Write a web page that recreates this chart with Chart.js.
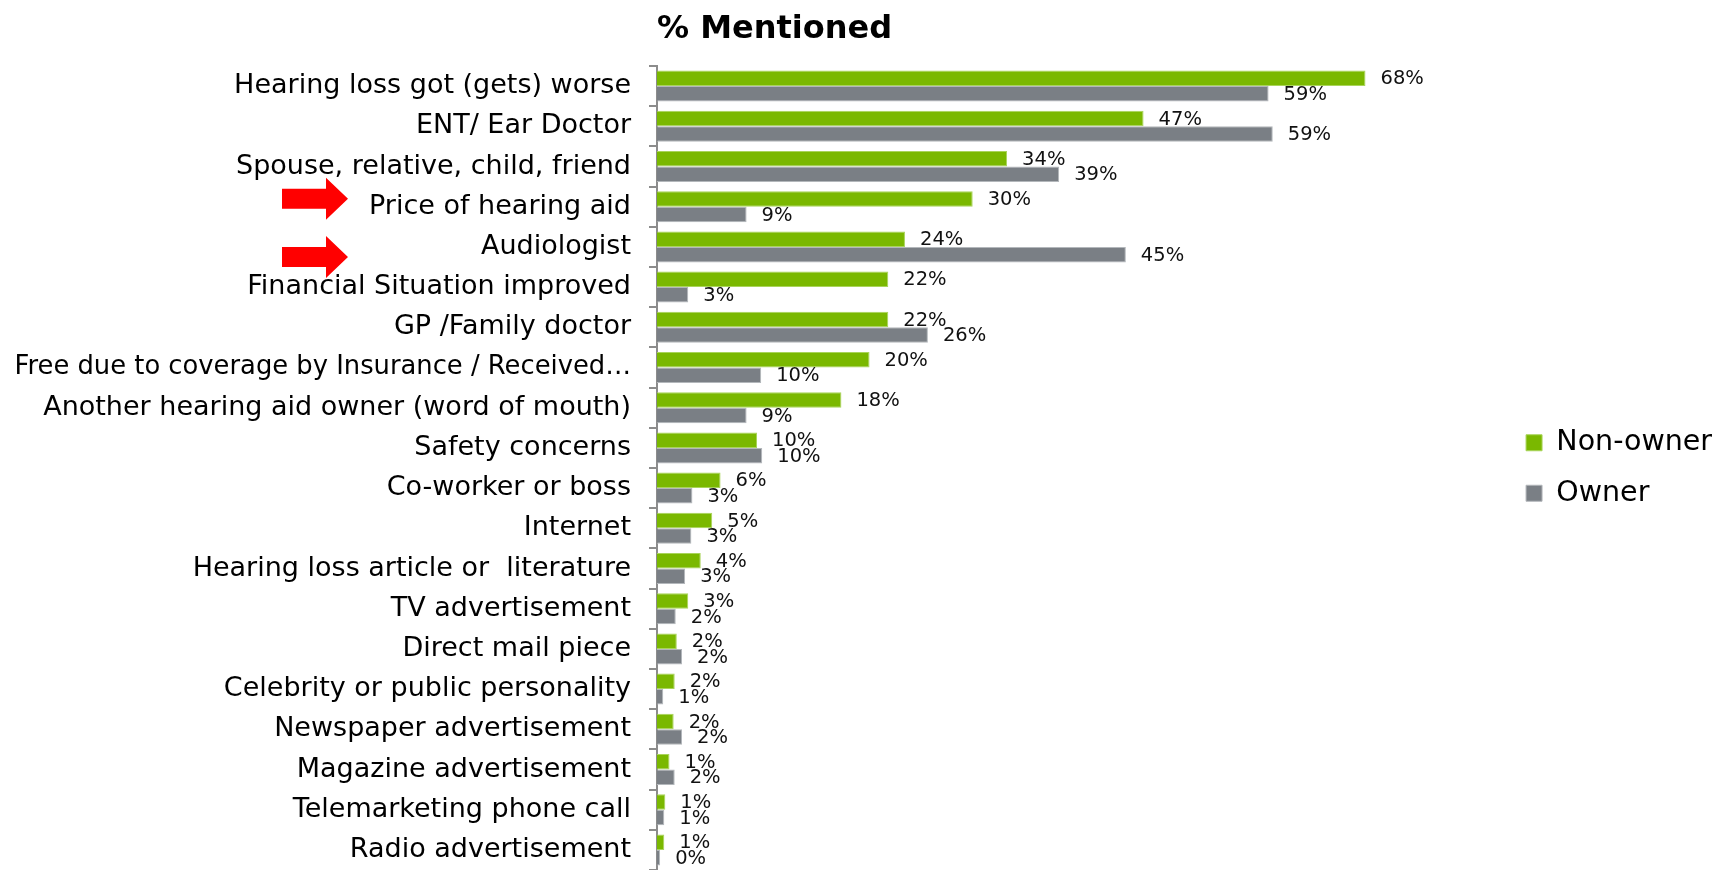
<!DOCTYPE html>
<html>
<head>
<meta charset="utf-8">
<script src="https://cdn.jsdelivr.net/npm/chart.js@4"></script>
<style>
  html, body { margin: 0; padding: 0; background: #fff; overflow: hidden; }
  #wrap { width: 1722px; height: 870px; position: relative; }
</style>
</head>
<body>
<div id="wrap"><canvas id="chartCanvas"></canvas></div>
<script>
// categories (top to bottom)
var categories = [
    "Hearing loss got (gets) worse",
    "ENT/ Ear Doctor",
    "Spouse, relative, child, friend",
    "Price of hearing aid",
    "Audiologist",
    "Financial Situation improved",
    "GP /Family doctor",
    "Free due to coverage by Insurance / Received\u2026",
    "Another hearing aid owner (word of mouth)",
    "Safety concerns",
    "Co-worker or boss",
    "Internet",
    "Hearing loss article or  literature",
    "TV advertisement",
    "Direct mail piece",
    "Celebrity or public personality",
    "Newspaper advertisement",
    "Magazine advertisement",
    "Telemarketing phone call",
    "Radio advertisement"
];

// % mentioned (labels show the rounded value)
var nonOwner = [68.0, 46.7, 33.6, 30.3, 23.8, 22.2, 22.2, 20.4, 17.7, 9.6,
                6.1, 5.3, 4.2, 3.0, 1.9, 1.7, 1.6, 1.2, 0.8, 0.7];
var owner    = [58.7, 59.1, 38.6, 8.6, 45.0, 3.0, 26.0, 10.0, 8.6, 10.1,
                3.4, 3.3, 2.7, 1.8, 2.4, 0.6, 2.4, 1.7, 0.7, 0.3];

var seriesNames = ["Non-owner", "Owner"];

var FONT = "'DejaVu Sans', Verdana, sans-serif";

// 값 라벨 (막대 끝에 % 표시)
var barLabels = {
    id: 'barLabels',
    afterDatasetsDraw: function(chart) {
        var ctx = chart.ctx;
        ctx.save();
        ctx.font = '19.5px ' + FONT;
        ctx.fillStyle = '#111';
        ctx.textAlign = 'left';
        ctx.textBaseline = 'middle';
        chart.data.datasets.forEach(function(ds, i) {
            chart.getDatasetMeta(i).data.forEach(function(bar, j) {
                ctx.fillText(Math.round(ds.data[j]) + '%', bar.x + 15, bar.y + 1);
            });
        });
        ctx.restore();
    }
};

// 빨간 화살표 (Price of hearing aid, Audiologist)
var redArrows = {
    id: 'redArrows',
    afterDraw: function(chart) {
        var ctx = chart.ctx;
        var y = chart.scales.y;
        var marks = [[3, -8], [4, 10]];
        ctx.save();
        ctx.fillStyle = '#ff0000';
        marks.forEach(function(m) {
            var cy = y.getPixelForValue(m[0]) + m[1];
            var x0 = 282;
            ctx.beginPath();
            ctx.moveTo(x0, cy - 10);
            ctx.lineTo(x0 + 44, cy - 10);
            ctx.lineTo(x0 + 44, cy - 21);
            ctx.lineTo(x0 + 66, cy);
            ctx.lineTo(x0 + 44, cy + 21);
            ctx.lineTo(x0 + 44, cy + 10);
            ctx.lineTo(x0, cy + 10);
            ctx.closePath();
            ctx.fill();
        });
        ctx.restore();
    }
};

var ctx = document.getElementById('chartCanvas').getContext('2d');
new Chart(ctx, {
    type: 'bar',
    data: {
        labels: categories,
        datasets: [{
            label: seriesNames[0],
            data: nonOwner,
            backgroundColor: '#7ab800',
            borderColor: '#a9d45a',
            borderWidth: 1,
            barPercentage: 1,
            categoryPercentage: 0.77
        }, {
            label: seriesNames[1],
            data: owner,
            backgroundColor: '#7a7f85',
            borderColor: '#b3b7bb',
            borderWidth: 1,
            barPercentage: 1,
            categoryPercentage: 0.77
        }]
    },
    options: {
        indexAxis: 'y',
        responsive: true,
        maintainAspectRatio: false,
        animation: false,
        layout: { padding: 0 },
        scales: {
            x: {
                display: false,
                min: 0,
                max: 81.3
            },
            y: {
                afterFit: function(scale) {
                    scale.width = 657;
                    scale.paddingTop = 0;
                    scale.paddingBottom = 0;
                },
                border: { display: true, color: '#8c8c8c', width: 2 },
                grid: { drawOnChartArea: false, drawTicks: true, tickLength: 8, color: '#8c8c8c', lineWidth: 2 },
                ticks: {
                    autoSkip: false,
                    padding: 18,
                    color: '#000',
                    font: function(c) {
                        return { family: FONT, size: c.index === 7 ? 25.8 : 27 };
                    }
                }
            }
        },
        plugins: {
            title: {
                display: true,
                text: '% Mentioned',
                align: 'start',
                fullSize: false,
                color: '#000',
                font: { family: FONT, size: 32, weight: 'bold' },
                padding: { top: 10, bottom: 17.6 }
            },
            legend: {
                position: 'right',
                align: 'center',
                fullSize: false,
                labels: {
                    color: '#000',
                    boxWidth: 16,
                    boxHeight: 16,
                    padding: 22,
                    font: { family: FONT, size: 28.5 }
                }
            },
            tooltip: { enabled: false }
        }
    },
    plugins: [barLabels, redArrows]
});
</script>
</body>
</html>
